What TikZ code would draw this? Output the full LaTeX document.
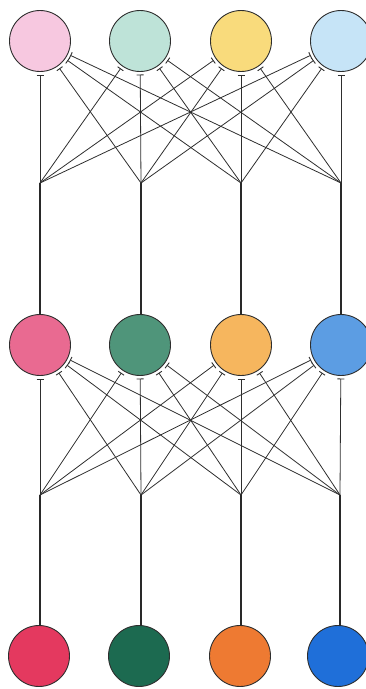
\documentclass[tikz,border=0pt]{standalone}
\usetikzlibrary{arrows.meta}
\definecolor{tA}{HTML}{F7C8E0}
\definecolor{tB}{HTML}{BEE3D8}
\definecolor{tC}{HTML}{F9DB7C}
\definecolor{tD}{HTML}{C6E4F7}
\definecolor{mA}{HTML}{E96A91}
\definecolor{mB}{HTML}{4F957A}
\definecolor{mC}{HTML}{F6B65E}
\definecolor{mD}{HTML}{5C9DE3}
\definecolor{bA}{HTML}{E4395F}
\definecolor{bB}{HTML}{1C6A50}
\definecolor{bC}{HTML}{EE7A32}
\definecolor{bD}{HTML}{1F6FD9}
\definecolor{ink}{HTML}{2E2E2E}
\begin{document}
\begin{tikzpicture}[x=1pt,y=-1pt,
  unit/.style={circle,draw=ink,line width=0.9pt,minimum size=61pt,inner sep=0pt,outer sep=0pt},
  trunk/.style={draw=ink!90!black,line width=2.5pt},
  syn/.style={draw=ink,line width=0.8pt,-{Bar[width=7pt,line width=0.9pt]},shorten >=3pt}]
\useasboundingbox (0,0) rectangle (366,689);
% units
\node[unit,fill=tA] (t1) at (40,41) {};
\node[unit,fill=tB] (t2) at (140,41) {};
\node[unit,fill=tC] (t3) at (241,41) {};
\node[unit,fill=tD] (t4) at (341,41) {};
\node[unit,fill=mA] (m1) at (40,345) {};
\node[unit,fill=mB] (m2) at (140,345) {};
\node[unit,fill=mC] (m3) at (241,345) {};
\node[unit,fill=mD] (m4) at (341,345) {};
\node[unit,fill=bA] (b1) at (39,656) {};
\node[unit,fill=bB] (b2) at (139,656) {};
\node[unit,fill=bC] (b3) at (240,656) {};
\node[unit,fill=bD] (b4) at (338,656) {};
% branch points
\coordinate (p1) at (40,183);
\coordinate (p2) at (141,183);
\coordinate (p3) at (241,183);
\coordinate (p4) at (341,183);
\coordinate (q1) at (40,495);
\coordinate (q2) at (141,495);
\coordinate (q3) at (241,495);
\coordinate (q4) at (340,495);
% trunks
\draw[trunk] (b1.north -| q1) -- (q1);
\draw[trunk] (b2.north -| q2) -- (q2);
\draw[trunk] (b3.north -| q3) -- (q3);
\draw[trunk] (b4.north -| q4) -- (q4);
\draw[trunk] (m1.north -| p1) -- (p1);
\draw[trunk] (m2.north -| p2) -- (p2);
\draw[trunk] (m3.north -| p3) -- (p3);
\draw[trunk] (m4.north -| p4) -- (p4);
% synapses
\foreach \i in {1,2,3,4}{
  \foreach \j in {1,2,3,4}{
    \draw[syn] (q\i) -- (m\j);
    \draw[syn] (p\i) -- (t\j);
  }
}
\end{tikzpicture}
\end{document}
